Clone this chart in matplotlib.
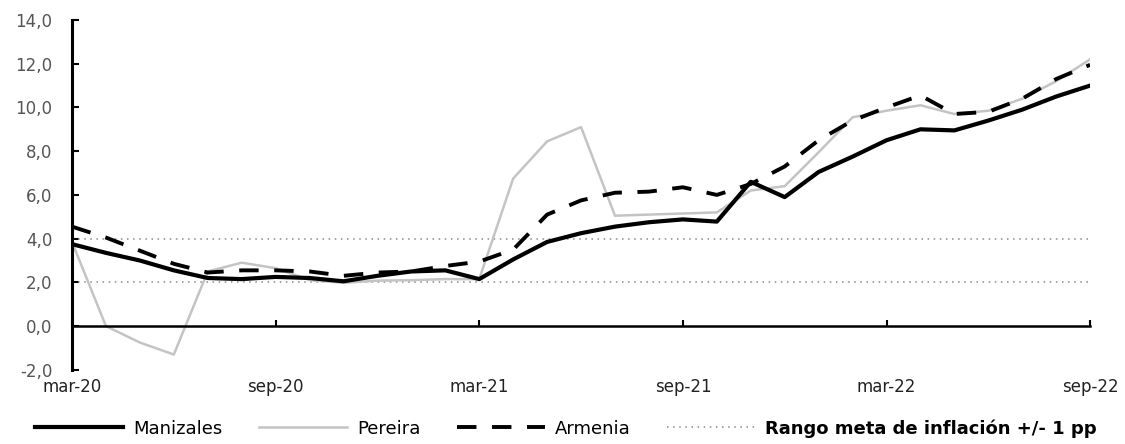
# Inflacion anual: Manizales, Pereira, Armenia (mar-20 a sep-22)
import numpy as np
import matplotlib.pyplot as plt
from matplotlib.ticker import FuncFormatter

# meses mar-20 ... sep-22
months = ['mar-20', 'abr-20', 'may-20', 'jun-20', 'jul-20', 'ago-20', 'sep-20', 'oct-20',
          'nov-20', 'dic-20', 'ene-21', 'feb-21', 'mar-21', 'abr-21', 'may-21', 'jun-21',
          'jul-21', 'ago-21', 'sep-21', 'oct-21', 'nov-21', 'dic-21', 'ene-22', 'feb-22',
          'mar-22', 'abr-22', 'may-22', 'jun-22', 'jul-22', 'ago-22', 'sep-22']

manizales = [3.75, 3.35, 3.0, 2.55, 2.2, 2.15, 2.25, 2.2, 2.05, 2.3, 2.5, 2.55,
             2.15, 3.05, 3.85, 4.25, 4.55, 4.75, 4.88, 4.78, 6.6, 5.9, 7.05, 7.75,
             8.5, 9.0, 8.95, 9.4, 9.9, 10.5, 11.0]
pereira = [3.85, 0.0, -0.75, -1.3, 2.5, 2.9, 2.65, 2.1, 1.98, 2.08, 2.1, 2.15,
           2.15, 6.75, 8.45, 9.1, 5.05, 5.1, 5.15, 5.2, 6.2, 6.4, 7.95, 9.55,
           9.85, 10.1, 9.7, 9.85, 10.4, 11.2, 12.2]
armenia = [4.55, 4.05, 3.45, 2.85, 2.45, 2.55, 2.55, 2.5, 2.3, 2.45, 2.5, 2.75,
           2.95, 3.5, 5.1, 5.75, 6.1, 6.15, 6.35, 6.0, 6.5, 7.3, 8.5, 9.4,
           10.0, 10.55, 9.7, 9.8, 10.4, 11.3, 11.95]
meta_sup = [4.0] * len(months)
meta_inf = [2.0] * len(months)

tick_labels = ['mar-20', 'sep-20', 'mar-21', 'sep-21', 'mar-22', 'sep-22']

x = np.arange(len(months))

fig = plt.figure(figsize=(11.25, 4.44), dpi=100)
ax = fig.add_axes([0.064, 0.167, 0.905, 0.788])

dotted = (0, (1, 3))
dashed = (0, (5, 4))

ax.plot(x, meta_sup, color='#8a8a8a', lw=1.1, ls=dotted)
ax.plot(x, meta_inf, color='#8a8a8a', lw=1.1, ls=dotted)
ax.plot(x, pereira, color='#c4c4c4', lw=1.8, label='Pereira')
ax.plot(x, manizales, color='black', lw=3.0, label='Manizales')
ax.plot(x, armenia, color='black', lw=2.8, ls=dashed, label='Armenia')

ax.set_xlim(0, len(months) - 1)
ax.set_ylim(-2, 14)
ax.set_yticks(np.arange(-2, 15, 2))
ax.yaxis.set_major_formatter(FuncFormatter(lambda v, p: f'{v:.1f}'.replace('.', ',')))
ax.set_xticks([months.index(m) for m in tick_labels])
ax.set_xticklabels(tick_labels)

for s in ['top', 'right']:
    ax.spines[s].set_visible(False)
ax.spines['bottom'].set_position(('data', 0))
ax.spines['bottom'].set_linewidth(1.8)
ax.spines['left'].set_linewidth(2.2)

ax.tick_params(axis='x', direction='in', length=4, width=1.5, pad=37,
               labelsize=12, labelcolor='#222222')
ax.tick_params(axis='y', direction='in', length=5, width=1.5, pad=14,
               labelsize=12, labelcolor='#555555')

handles = [
    plt.Line2D([], [], color='black', lw=3.0),
    plt.Line2D([], [], color='#c4c4c4', lw=1.8),
    plt.Line2D([], [], color='black', lw=2.8, ls=dashed),
    plt.Line2D([], [], color='#8a8a8a', lw=1.1, ls=dotted),
]
labels = ['Manizales', 'Pereira', 'Armenia', 'Rango meta de inflación +/- 1 pp']
leg = fig.legend(handles, labels, loc='lower left', bbox_to_anchor=(0.031, 0.014),
                 ncol=4, frameon=False, borderpad=0, borderaxespad=0,
                 handlelength=4.9, handletextpad=0.55, columnspacing=2.0,
                 fontsize=13)
leg.get_texts()[3].set_fontweight('bold')

fig.savefig('out.png', dpi=100)
